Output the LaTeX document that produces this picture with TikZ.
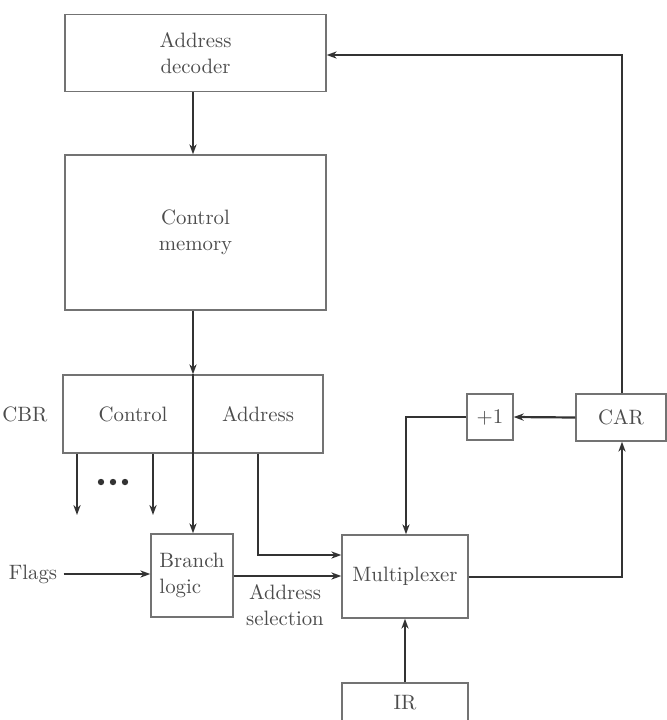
\documentclass[tikz,border=0pt]{standalone}
\usetikzlibrary{arrows.meta}
\begin{document}
\begin{tikzpicture}[x=0.5pt,y=-0.5pt,
  box/.style={draw=black!55, line width=0.7pt, inner sep=0pt, text=black!70, font=\fontsize{10.4}{13}\selectfont, align=center},
  lbl/.style={text=black!70, font=\fontsize{10.4}{13}\selectfont, inner sep=0pt},
  conn/.style={draw=black!80, line width=1.1pt},
  arr/.style={conn, -{Stealth[length=5pt,width=3.6pt]}}]
\clip (0,0) rectangle (667,720);
\useasboundingbox (0,0) rectangle (667,720);
% boxes
\node[box, minimum width=130.5pt, minimum height=38.5pt] (dec) at (195.5,53) {Address\\decoder};
\node[box, minimum width=130.5pt, minimum height=77.5pt] (mem) at (195.5,232.5) {Control\\memory};
\node[box, minimum width=130pt, minimum height=39pt] (cbr) at (193,414) {};
\node[lbl] (ctl) at (133,414) {Control};
\node[lbl] (adr) at (258,414) {Address};
\node[lbl] (cbrl) at (25,414) {CBR};
\node[box, minimum width=41pt, minimum height=41.5pt] (br) at (192,575.5) {};
\node[lbl, align=left] (brt) at (192,575) {Branch\\logic};
\node[box, minimum width=63pt, minimum height=41.5pt] (mux) at (405,576.5) {Multiplexer};
\node[box, minimum width=45pt, minimum height=23.5pt] (car) at (621,417.5) {CAR};
\node[box, minimum width=23pt, minimum height=23pt] (inc) at (490,417) {+1};
\node[box, minimum width=63pt, minimum height=28.5pt] (ir) at (405,711.5) {};
\node[lbl] (irt) at (405,703) {IR};
\node[lbl] (flags) at (33,574) {Flags};
\node[lbl, align=center] (asel) at (285,605) {Address\\selection};
% helper coordinates
\coordinate (spine) at (193,0);
\coordinate (o1) at (77,515);
\coordinate (o2) at (153,515);
\coordinate (adrturn) at (258,555);
\coordinate (incturn) at (406,417);
\coordinate (carx) at (622,0);
\coordinate (topy) at (0,55);
% dots
\foreach \dx in {101,113,125} \fill[black!80] (\dx,482) circle (1.6pt);
% connectors
\draw[arr] (spine |- dec.south) -- (spine |- mem.north);
\draw[arr] (spine |- mem.south) -- (spine |- cbr.north);
\draw[arr] (spine |- cbr.north) -- (spine |- br.north);
\draw[arr] (o1 |- cbr.south) -- (o1);
\draw[arr] (o2 |- cbr.south) -- (o2);
\draw[arr] (adrturn |- cbr.south) -- (adrturn) -- (adrturn -| mux.west);
\draw[arr] (flags.east) ++(6,0) coordinate (fl) -- (fl -| br.west);
\draw[arr] (br.east |- 0,576) -- (mux.west |- 0,576);
\draw[arr] (mux.east |- 0,577) -| (carx |- car.south);
\draw[arr] (car.west) -- (inc.east);
\draw[arr] (inc.west) -- (incturn) -- (incturn |- mux.north);
\draw[arr] (carx |- car.north) -- (carx |- topy) -- (dec.east |- topy);
\draw[arr] (mux.south |- ir.north) -- (mux.south);
\end{tikzpicture}
\end{document}
